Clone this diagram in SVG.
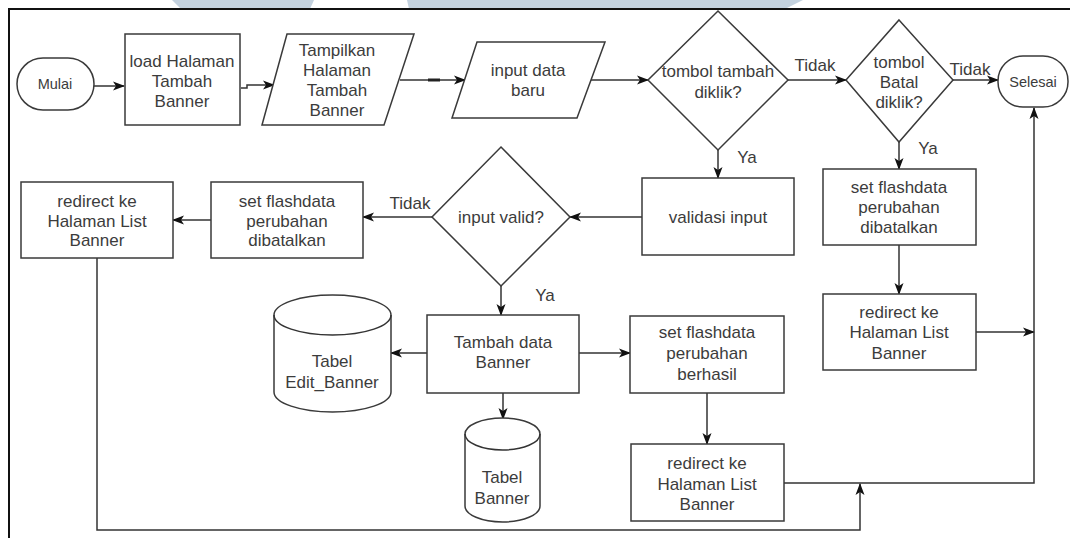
<svg xmlns="http://www.w3.org/2000/svg" width="1070" height="538" viewBox="0 0 1070 538">
  <defs>
    <style>
      .shape { fill: #ffffff; stroke: #3a3a3a; stroke-width: 1.5; }
      .line { fill: none; stroke: #333333; stroke-width: 1.5; }
      .t { font-family: "Liberation Sans", Arial, sans-serif; font-size: 17px; fill: #3c3c3c; text-anchor: middle; dominant-baseline: central; }
      .ts { font-family: "Liberation Sans", Arial, sans-serif; font-size: 14.5px; fill: #3c3c3c; text-anchor: middle; dominant-baseline: central; }
    </style>
    <marker id="arrow" markerUnits="userSpaceOnUse" markerWidth="12" markerHeight="10" refX="11" refY="5" orient="auto">
      <path d="M0,0.5 L12,5 L0,9.5 L3,5 Z" fill="#111111"/>
    </marker>
  </defs>

  <rect width="1070" height="538" fill="#ffffff"/>

  <!-- header band and page frame -->
  <g id="header">
    <polygon points="172,0 314,0 310,9 181,9" fill="#c4d2df"/>
    <polygon points="407,0 803,0 785,9 409,9" fill="#c4d2df"/>
    <path d="M9,538 L9,9 L1070,9" fill="none" stroke="#111111" stroke-width="2"/>
  </g>

  <!-- connectors -->
  <g id="connectors">
    <path class="line" d="M94,86 L124,86" marker-end="url(#arrow)"/>
    <path class="line" d="M241,88 L247,88 L247,85 L274,85" marker-end="url(#arrow)"/>
    <path class="line" d="M400,80 L465,80" marker-end="url(#arrow)"/>
    <path d="M428,80 L440,80" stroke="#222222" stroke-width="3"/>
    <path class="line" d="M591,80 L648,80" marker-end="url(#arrow)"/>
    <path class="line" d="M788,80 L846,80" marker-end="url(#arrow)"/>
    <path class="line" d="M953,80 L998,80" marker-end="url(#arrow)"/>
    <path class="line" d="M718,150 L718,178" marker-end="url(#arrow)"/>
    <path class="line" d="M899,142 L899,169" marker-end="url(#arrow)"/>
    <path class="line" d="M899,245 L899,294" marker-end="url(#arrow)"/>
    <path class="line" d="M976,332 L1034,332" marker-end="url(#arrow)"/>
    <path class="line" d="M784,483 L1034,483 L1034,108" marker-end="url(#arrow)"/>
    <path class="line" d="M642,217 L570,217" marker-end="url(#arrow)"/>
    <path class="line" d="M432,217 L363,217" marker-end="url(#arrow)"/>
    <path class="line" d="M211,220 L173,220" marker-end="url(#arrow)"/>
    <path class="line" d="M97,258 L97,530 L860,530 L860,484" marker-end="url(#arrow)"/>
    <path class="line" d="M501,286 L501,315" marker-end="url(#arrow)"/>
    <path class="line" d="M427,353 L391,353" marker-end="url(#arrow)"/>
    <path class="line" d="M503,393 L503,419" marker-end="url(#arrow)"/>
    <path class="line" d="M579,353 L630,353" marker-end="url(#arrow)"/>
    <path class="line" d="M707,393 L707,444" marker-end="url(#arrow)"/>
  </g>

  <!-- connector labels -->
  <g id="labels">
    <text class="t" x="815" y="65">Tidak</text>
    <text class="t" x="970" y="69">Tidak</text>
    <text class="t" x="747" y="157">Ya</text>
    <text class="t" x="928" y="148">Ya</text>
    <text class="t" x="410" y="203">Tidak</text>
    <text class="t" x="545" y="295">Ya</text>
  </g>

  <g id="mulai">
    <rect class="shape" x="17" y="58" width="77" height="52" rx="26" ry="26"/>
    <text class="ts" x="55" y="84">Mulai</text>
  </g>

  <g id="load-halaman">
    <rect class="shape" x="125" y="34" width="115" height="91"/>
    <text class="t" x="182" y="61">load Halaman</text>
    <text class="t" x="182" y="81">Tambah</text>
    <text class="t" x="182" y="101">Banner</text>
  </g>

  <g id="tampilkan-halaman">
    <polygon class="shape" points="287,34 414,34 384,125 262,125"/>
    <text class="t" x="337" y="50">Tampilkan</text>
    <text class="t" x="337" y="70">Halaman</text>
    <text class="t" x="337" y="90">Tambah</text>
    <text class="t" x="337" y="110">Banner</text>
  </g>

  <g id="input-data">
    <polygon class="shape" points="477,42 605,42 577,118 452,118"/>
    <text class="t" x="528" y="70">input data</text>
    <text class="t" x="528" y="90">baru</text>
  </g>

  <g id="cek-tambah">
    <polygon class="shape" points="718,11 788,80 718,150 648,80"/>
    <text class="t" x="718" y="71">tombol tambah</text>
    <text class="t" x="718" y="92">diklik?</text>
  </g>

  <g id="cek-batal">
    <polygon class="shape" points="899,20 953,80 899,142 846,80"/>
    <text class="t" x="899" y="62">tombol</text>
    <text class="t" x="899" y="82">Batal</text>
    <text class="t" x="899" y="102">diklik?</text>
  </g>

  <g id="selesai">
    <rect class="shape" x="998" y="56" width="70" height="51" rx="25" ry="25"/>
    <text class="ts" x="1033" y="82">Selesai</text>
  </g>

  <g id="validasi-input">
    <rect class="shape" x="642" y="178" width="152" height="77"/>
    <text class="t" x="718" y="217">validasi input</text>
  </g>

  <g id="flash-batal-kanan">
    <rect class="shape" x="823" y="169" width="153" height="76"/>
    <text class="t" x="899" y="187">set flashdata</text>
    <text class="t" x="899" y="207">perubahan</text>
    <text class="t" x="899" y="227">dibatalkan</text>
  </g>

  <g id="redirect-kanan">
    <rect class="shape" x="823" y="294" width="153" height="76"/>
    <text class="t" x="899" y="312">redirect ke</text>
    <text class="t" x="899" y="332">Halaman List</text>
    <text class="t" x="899" y="353">Banner</text>
  </g>

  <g id="cek-valid">
    <polygon class="shape" points="501,147 570,217 501,286 432,217"/>
    <text class="t" x="501" y="217">input valid?</text>
  </g>

  <g id="flash-batal-kiri">
    <rect class="shape" x="211" y="182" width="152" height="76"/>
    <text class="t" x="287" y="201">set flashdata</text>
    <text class="t" x="287" y="221">perubahan</text>
    <text class="t" x="287" y="240">dibatalkan</text>
  </g>

  <g id="redirect-kiri">
    <rect class="shape" x="21" y="182" width="152" height="76"/>
    <text class="t" x="97" y="201">redirect ke</text>
    <text class="t" x="97" y="221">Halaman List</text>
    <text class="t" x="97" y="240">Banner</text>
  </g>

  <g id="tambah-data">
    <rect class="shape" x="427" y="315" width="152" height="78"/>
    <text class="t" x="503" y="342">Tambah data</text>
    <text class="t" x="503" y="362">Banner</text>
  </g>

  <g id="tabel-edit-banner">
    <path class="shape" d="M274,315 A58.5,20 0 0 1 391,315 L391,392 A58.5,20 0 0 1 274,392 Z"/>
    <path class="line" d="M274,315 A58.5,20 0 0 0 391,315" stroke="#3a3a3a"/>
    <text class="t" x="332" y="361">Tabel</text>
    <text class="t" x="332" y="382">Edit_Banner</text>
  </g>

  <g id="tabel-banner">
    <path class="shape" d="M465,434 A37.5,16 0 0 1 540,434 L540,506 A37.5,16 0 0 1 465,506 Z"/>
    <path class="line" d="M465,434 A37.5,16 0 0 0 540,434" stroke="#3a3a3a"/>
    <text class="t" x="502" y="477">Tabel</text>
    <text class="t" x="502" y="498">Banner</text>
  </g>

  <g id="flash-berhasil">
    <rect class="shape" x="630" y="316" width="154" height="77"/>
    <text class="t" x="707" y="332">set flashdata</text>
    <text class="t" x="707" y="353">perubahan</text>
    <text class="t" x="707" y="374">berhasil</text>
  </g>

  <g id="redirect-bawah">
    <rect class="shape" x="631" y="444" width="153" height="77"/>
    <text class="t" x="707" y="463">redirect ke</text>
    <text class="t" x="707" y="484">Halaman List</text>
    <text class="t" x="707" y="504">Banner</text>
  </g>
</svg>
